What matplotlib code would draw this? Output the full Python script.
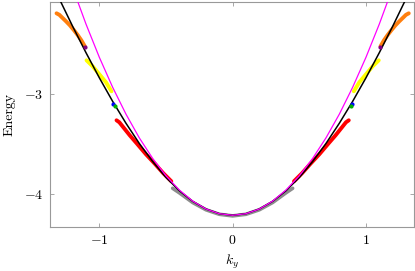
import matplotlib
matplotlib.use('Agg')
import matplotlib.pyplot as plt
import numpy as np

plt.rcParams['mathtext.fontset'] = 'cm'
plt.rcParams['font.family'] = 'serif'
plt.rcParams['font.serif'] = ['cmr10', 'DejaVu Serif']
plt.rcParams['axes.formatter.use_mathtext'] = True

# black / magenta bands (k >= 0, mirrored)
k_line = [0.0, 0.1, 0.2, 0.3, 0.4, 0.5, 0.6, 0.7, 0.8, 0.9, 1.0, 1.1, 1.2, 1.3, 1.4]
E_black = [-4.21, -4.194, -4.147, -4.070, -3.964, -3.831, -3.672, -3.492,
           -3.290, -3.071, -2.835, -2.584, -2.321, -2.046, -1.762]
E_magenta = [-4.21, -4.194, -4.147, -4.068, -3.957, -3.815, -3.641, -3.436,
             -3.199, -2.930, -2.630, -2.298, -1.935, -1.540, -1.113]

# coloured branches, left side (k < 0), mirrored to k > 0
k_orange = [-1.321, -1.30, -1.281, -1.25, -1.221, -1.19, -1.161, -1.135, -1.109]
E_orange = [-2.19, -2.205, -2.23, -2.27, -2.31, -2.36, -2.41, -2.46, -2.52]
k_yellow = [-1.096, -1.05, -1.00, -0.95, -0.909]
E_yellow = [-2.66, -2.72, -2.80, -2.88, -2.97]
k_red = [-0.871, -0.85, -0.82, -0.772, -0.72, -0.65, -0.58, -0.52, -0.46]
E_red = [-3.26, -3.28, -3.33, -3.41, -3.49, -3.60, -3.70, -3.79, -3.87]
k_gray = [-0.45, -0.4, -0.3, -0.2, -0.1, 0.0]
E_gray = [-3.94, -3.985, -4.082, -4.155, -4.200, -4.216]
pt_purple = (-1.105, -2.53)
pt_blue = (-0.897, -3.10)
pt_green = (-0.884, -3.12)

xticks = [-1, 0, 1]
yticks = [-3, -4]

fig = plt.figure(figsize=(4.15, 2.71), dpi=100)
ax = fig.add_axes([0.1205, 0.1624, 0.877, 0.8302])

def both(k, E):
    k = np.array(k)
    E = np.array(E)
    return np.concatenate([k, -k[::-1]]), np.concatenate([E, E[::-1]])

def sym(k, E):
    k = np.array(k)
    E = np.array(E)
    return np.concatenate([-k[::-1], k[1:]]), np.concatenate([E[::-1], E[1:]])

for kk, EE, c in [(k_orange, E_orange, '#ff7f0e'), (k_yellow, E_yellow, '#ffff00'),
                  (k_red, E_red, '#ff0000')]:
    ax.plot(kk, EE, '-', color=c, lw=2.8, solid_capstyle='round', zorder=2)
    ax.plot(-np.array(kk), EE, '-', color=c, lw=2.8, solid_capstyle='round', zorder=2)

kg, Eg = both(k_gray, E_gray)
ax.plot(kg, Eg, '-', color='#8c8c8c', lw=2.6, solid_capstyle='round', zorder=2)

for (kp, Ep), c in [(pt_purple, '#800080'), (pt_blue, '#0000ff'), (pt_green, '#00b000')]:
    ax.plot([kp, -kp], [Ep, Ep], 'o', color=c, ms=3, mew=0, zorder=4)

kb, Eb = sym(k_line, E_black)
ax.plot(kb, Eb, color='black', lw=1.1, zorder=3)
km, Em = sym(k_line, E_magenta)
ax.plot(km, Em, color='#ff00ff', lw=0.9, zorder=3)

ax.set_xlim(-1.37, 1.36)
ax.set_ylim(-4.327, -2.077)
ax.set_xticks(xticks)
ax.set_yticks(yticks)
ax.set_xticklabels(['$-1$', '$0$', '$1$'])
ax.set_yticklabels(['$-3$', '$-4$'])
ax.tick_params(direction='in', top=True, right=True, length=3, width=0.6,
               color='#999999', labelsize=10, pad=5)
for s in ax.spines.values():
    s.set_color('#999999')
    s.set_linewidth(0.8)

ax.set_xlabel('$k_y$', fontsize=10)
ax.set_ylabel('Energy', fontsize=10, labelpad=6)

fig.savefig('out.png', dpi=100)
